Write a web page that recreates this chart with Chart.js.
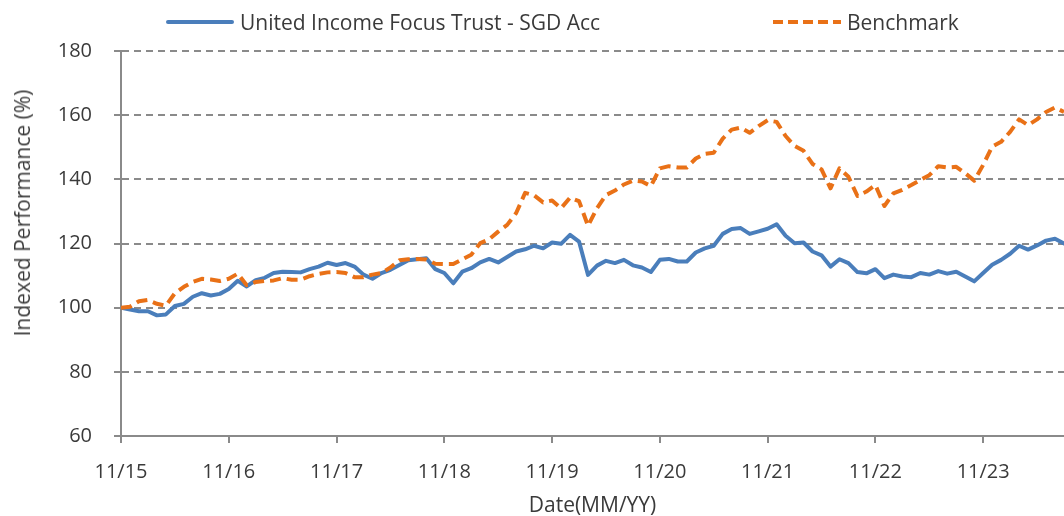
<!DOCTYPE html>
<html lang="en">
<head>
<meta charset="utf-8">
<title>United Income Focus Trust - Indexed Performance</title>
<script src="https://cdn.jsdelivr.net/npm/chart.js@4.4.0/dist/chart.umd.min.js"></script>
<style>
    body { margin: 0; background: #fff; font-family: 'Open Sans', sans-serif; color: #3a3a3a; }
    #wrap { position: relative; width: 1064px; height: 516px; overflow: hidden; }
    .legend-item { position: absolute; top: 9px; height: 26px; display: flex; align-items: center; font-size: 21px; white-space: nowrap; }
    .swatch { width: 68px; height: 4px; margin-right: 6px; }
    #lg-fund { left: 166px; }
    #lg-fund .swatch { background: #4A7EBB; border-radius: 2px; }
    #lg-bench { left: 773px; }
    #lg-bench .swatch { background: repeating-linear-gradient(90deg, #E97117 0 10px, transparent 10px 15px); }
    #ytitle { position: absolute; left: 22px; top: 213px; transform: translate(-50%, -50%) rotate(-90deg); font-size: 21px; white-space: nowrap; }
</style>
</head>
<body>
<div id="wrap">
    <canvas id="chart" width="1064" height="516"></canvas>
    <div class="legend-item" id="lg-fund"><span class="swatch"></span>United Income Focus Trust - SGD Acc</div>
    <div class="legend-item" id="lg-bench"><span class="swatch"></span>Benchmark</div>
    <div id="ytitle">Indexed Performance (%)</div>
</div>
<script>

    // month index 0 = 11/15, one value per month
    const tickLabels = ['11/15', '11/16', '11/17', '11/18', '11/19', '11/20', '11/21', '11/22', '11/23'];

    const fund = [
        100, 99.4, 98.9, 98.9, 97.6, 97.9, 100.5, 101.2, 103.4, 104.5, 103.8, 104.3,
        105.8, 108.4, 106.6, 108.6, 109.3, 110.8, 111.2, 111.1, 111, 112, 112.8, 114,
        113.3, 113.9, 112.8, 110.3, 109, 110.8, 111.8, 113.3, 114.8, 115.1, 115.4, 112,
        110.8, 107.6, 111.2, 112.3, 114.1, 115.2, 114.1, 115.8, 117.5, 118.2, 119.3, 118.5,
        120.3, 119.9, 122.7, 120.6, 110.2, 113.1, 114.6, 113.9, 114.9, 113.2, 112.5, 111.1,
        114.9, 115.2, 114.4, 114.4, 117.2, 118.5, 119.3, 123, 124.5, 124.8, 123, 123.8,
        124.6, 126, 122.4, 120.1, 120.3, 117.5, 116.3, 112.8, 115.1, 113.9, 111.1, 110.7,
        112, 109.2, 110.3, 109.7, 109.5, 110.8, 110.3, 111.4, 110.6, 111.2, 109.7, 108.2,
        110.8, 113.4, 114.9, 116.8, 119.3, 118.1, 119.4, 120.9, 121.5, 120
    ];

    const benchmark = [
        100, 100.3, 102, 102.4, 101.2, 100.6, 104.5, 106.5, 108, 109, 108.8, 108.3,
        109, 110.6, 107, 108, 108.3, 108.5, 109.2, 108.7, 108.7, 109.8, 110.5, 111,
        111.1, 110.8, 109.5, 109.5, 110.3, 110.8, 112.5, 114.8, 115.1, 115.2, 115, 113.7,
        113.6, 113.6, 115.1, 116.5, 120.1, 121.3, 123.7, 125.8, 129.5, 135.8, 135, 132.8,
        133.4, 131, 134.3, 133.2, 125.5, 131, 135.1, 136.5, 138.4, 139.6, 139.3, 137.9,
        143.4, 144.1, 143.7, 143.7, 146.5, 147.9, 148.3, 152.7, 155.5, 156.1, 154.5, 156.6,
        158.4, 157.9, 153.5, 150.4, 148.9, 144.8, 143.1, 137.2, 143.4, 140.8, 134.8, 136.2,
        138.2, 131.7, 135.6, 136.7, 138.2, 139.8, 141.3, 144.1, 143.7, 143.9, 141.9, 139.6,
        144.5, 150.2, 151.7, 154.8, 158.7, 156.9, 158.7, 161, 162.4, 161
    ];

    const toPoints = arr => arr.map((v, i) => ({ x: i, y: v }));

    const tickFont = { family: "'Open Sans', sans-serif", size: 20 };
    const titleFont = { family: "'Open Sans', sans-serif", size: 21 };
    const textColor = '#3a3a3a';
    const axisColor = '#8a8a8a';

    new Chart(document.getElementById('chart'), {
        type: 'line',
        data: {
            datasets: [
                {
                    label: 'United Income Focus Trust - SGD Acc',
                    data: toPoints(fund),
                    borderColor: '#4A7EBB',
                    borderWidth: 4,
                    borderJoinStyle: 'round',
                    borderCapStyle: 'round',
                    pointRadius: 0,
                    tension: 0,
                    order: 1
                },
                {
                    label: 'Benchmark',
                    data: toPoints(benchmark),
                    borderColor: '#E97117',
                    borderWidth: 4,
                    borderDash: [11, 6],
                    borderJoinStyle: 'round',
                    pointRadius: 0,
                    tension: 0,
                    order: 0
                }
            ]
        },
        options: {
            responsive: false,
            animation: false,
            layout: { padding: { top: 51, right: 0, bottom: 0, left: 0 } },
            plugins: {
                legend: { display: false },
                tooltip: { enabled: false }
            },
            scales: {
                x: {
                    type: 'linear',
                    min: 0,
                    max: fund.length - 1,
                    afterBuildTicks: s => { s.ticks = tickLabels.map((t, k) => ({ value: k * 12 })); },
                    afterFit: s => { s.height = 80; },
                    ticks: {
                        callback: v => tickLabels[v / 12],
                        font: tickFont,
                        color: textColor,
                        padding: 17,
                        maxRotation: 0,
                        autoSkip: false
                    },
                    grid: { drawOnChartArea: false, tickLength: 7, color: axisColor, lineWidth: 2 },
                    border: { color: axisColor, width: 2 },
                    title: { display: true, text: 'Date(MM/YY)', font: titleFont, color: textColor, padding: { top: 0, bottom: -3 } }
                },
                y: {
                    min: 60,
                    max: 180,
                    afterFit: s => { s.width = 121; },
                    ticks: { stepSize: 20, padding: 22, font: tickFont, color: textColor },
                    grid: { color: axisColor, lineWidth: 2, tickLength: 7, tickBorderDash: [] },
                    border: { dash: [7, 5], color: axisColor, width: 2 }
                }
            }
        }
    });

</script>
</body>
</html>
